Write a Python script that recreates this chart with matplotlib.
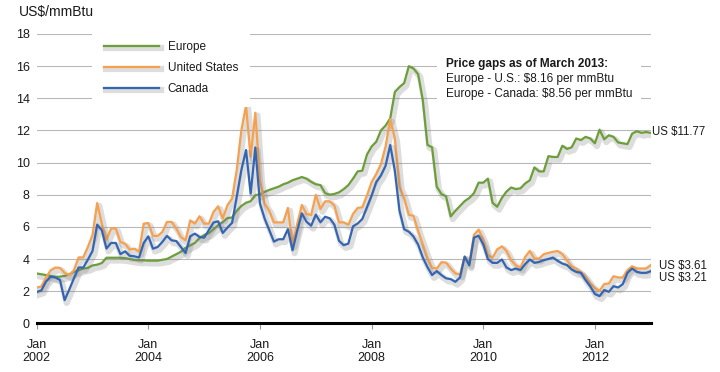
import matplotlib
matplotlib.use('Agg')
import matplotlib.pyplot as plt
from matplotlib import patheffects as pe
from matplotlib.patches import Rectangle

plt.rcParams['font.family'] = ['Liberation Sans', 'DejaVu Sans']

# ---------------- data (monthly, Jan 2002 .. Jan 2013) ----------------
europe = [3.1, 3.05, 3.0, 2.95, 2.9, 2.9, 2.95, 3.05, 3.2, 3.3, 3.4, 3.45,
          3.6, 3.65, 3.75, 4.08, 4.08, 4.08, 4.08, 4.05, 4.0, 3.95, 3.92, 3.92,
          3.9, 3.9, 3.9, 3.95, 4.0, 4.15, 4.3, 4.45, 4.7, 4.85, 5.0, 5.3,
          5.5, 5.6, 5.85, 6.1, 6.3, 6.55, 6.58, 7.0, 7.3, 7.5, 7.6, 7.97,
          8.03, 8.18, 8.3, 8.4, 8.5, 8.65, 8.75, 8.9, 9.0, 9.1, 9.0, 8.8,
          8.65, 8.6, 8.1, 8.0, 8.05, 8.15, 8.35, 8.6, 9.0, 9.45, 9.5, 10.5,
          11.0, 11.3, 12.0, 12.3, 12.75, 14.4, 14.7, 14.95, 16.0, 15.85, 15.5, 13.9,
          11.1, 10.95, 8.5, 8.05, 7.9, 6.65, 7.0, 7.3, 7.6, 7.8, 8.1, 8.75,
          8.75, 9.0, 7.5, 7.25, 7.8, 8.2, 8.45, 8.35, 8.4, 8.7, 8.9, 9.7,
          9.45, 9.45, 10.4, 10.35, 10.35, 11.05, 10.85, 10.95, 11.5, 11.4, 11.6, 11.5,
          11.2, 12.05, 11.45, 11.7, 11.6, 11.25, 11.2, 11.15, 11.8, 11.95, 11.85, 11.9,
          11.85]
united_states = [2.22, 2.3, 2.85, 3.3, 3.47, 3.45, 3.13, 3.0, 3.3, 4.1, 4.1, 4.75,
                 5.5, 7.48, 6.2, 5.2, 5.9, 5.9, 5.06, 4.95, 4.58, 4.65, 4.44, 6.2,
                 6.24, 5.44, 5.44, 5.68, 6.31, 6.31, 5.9, 5.37, 5.16, 6.4, 6.2, 6.66,
                 6.2, 6.2, 6.93, 7.28, 6.52, 7.35, 7.76, 9.53, 12.02, 13.54, 10.36, 13.1,
                 8.9, 7.45, 7.0, 6.28, 6.28, 6.28, 7.18, 4.92, 6.17, 7.36, 6.8, 6.74,
                 7.99, 7.11, 7.59, 7.59, 7.32, 6.28, 6.28, 6.13, 6.8, 7.18, 7.22, 7.95,
                 8.79, 9.3, 9.9, 11.0, 12.7, 11.5, 8.5, 7.8, 6.75, 6.69, 5.75, 4.92,
                 4.09, 3.46, 3.4, 3.8, 3.78, 3.41, 3.1, 3.04, 4.15, 3.72, 5.5, 5.83,
                 5.2, 4.24, 4.09, 4.6, 4.79, 4.5, 3.93, 3.6, 3.47, 4.13, 4.5, 4.03,
                 4.03, 4.3, 4.38, 4.45, 4.5, 4.3, 3.93, 3.55, 3.4, 3.2, 2.89, 2.5,
                 2.2, 2.02, 2.44, 2.48, 2.93, 2.85, 2.85, 3.31, 3.55, 3.41, 3.41, 3.41,
                 3.62]
canada = [1.95, 2.05, 2.6, 2.9, 2.85, 2.7, 1.44, 2.1, 2.8, 3.47, 3.47, 3.96,
          4.5, 6.14, 5.78, 4.65, 5.0, 5.0, 4.3, 4.48, 4.19, 4.17, 4.09, 5.0,
          5.41, 4.64, 4.75, 5.06, 5.44, 5.16, 5.12, 4.75, 4.37, 5.41, 5.58, 5.37,
          5.33, 5.8, 6.27, 6.35, 5.62, 5.95, 6.25, 7.87, 9.53, 10.78, 8.07, 10.94,
          7.45, 6.52, 5.8, 5.08, 5.23, 5.23, 5.86, 4.54, 5.75, 6.84, 6.32, 6.07,
          6.76, 6.28, 6.63, 6.53, 6.13, 5.13, 4.86, 4.96, 6.03, 6.21, 6.49, 7.22,
          7.95, 8.79, 9.2, 9.8, 11.09, 9.49, 7.0, 5.85, 5.7, 5.4, 4.9, 4.1,
          3.5, 3.0, 3.25, 3.0, 2.8, 2.75, 2.58, 2.85, 4.15, 3.6, 5.33, 5.45,
          4.9, 4.0, 3.76, 3.76, 3.97, 3.47, 3.31, 3.41, 3.31, 3.68, 3.97, 3.76,
          3.82, 3.93, 4.0, 4.09, 3.88, 3.72, 3.62, 3.35, 3.2, 3.14, 2.69, 2.3,
          1.82, 1.69, 2.07, 1.96, 2.31, 2.23, 2.44, 3.14, 3.41, 3.2, 3.14, 3.14,
          3.24]
months = list(range(len(europe)))

series_names = ['Europe', 'United States', 'Canada']
series_colors = ['#6c9e3a', '#f7a04e', '#3465b2']

tick_months = [0, 24, 48, 72, 96, 120]
tick_labels = ['Jan\n2002', 'Jan\n2004', 'Jan\n2006', 'Jan\n2008', 'Jan\n2010', 'Jan\n2012']
y_ticks = list(range(0, 19, 2))

end_labels = ['US $11.77', 'US $3.61', 'US $3.21']
note_title = 'Price gaps as of March 2013:'
note_lines = ['Europe - U.S.: $8.16 per mmBtu', 'Europe - Canada: $8.56 per mmBtu']

# ---------------- figure ----------------
W, H = 720, 372
fig = plt.figure(figsize=(W / 100, H / 100), dpi=100)
ax = fig.add_axes([36.7 / W, (H - 323.3) / H, (650.7 - 36.7) / W, (323.3 - 34) / H])

txt = '#1a1a1a'

shadow = [pe.SimpleLineShadow(offset=(1.5, -2.0), shadow_color='#7a7a7a', alpha=0.25, linewidth=4.5),
          pe.Normal()]

for vals, name, col in zip([europe, united_states, canada], series_names, series_colors):
    ax.plot(months, vals, color=col, lw=1.6, label=name, zorder=3,
            solid_joinstyle='round', path_effects=shadow)

ax.set_xlim(0, 132)
ax.set_ylim(0, 18)
ax.set_yticks(y_ticks)
ax.set_yticklabels([str(v) for v in y_ticks], fontsize=9, color=txt)
ax.set_xticks(tick_months)
ax.set_xticklabels(tick_labels, fontsize=9, color=txt, linespacing=1.15)
ax.tick_params(axis='y', length=0, pad=5)
ax.tick_params(axis='x', length=4, width=0.8, color='#9a9a9a', pad=7)
ax.yaxis.grid(True, color='#b8b8b8', lw=0.8)
ax.set_axisbelow(True)
for s in ['top', 'right', 'left']:
    ax.spines[s].set_visible(False)
ax.spines['bottom'].set_color('black')
ax.spines['bottom'].set_linewidth(2.2)
ax.spines['bottom'].set_zorder(4)

# legend
leg = ax.legend(loc='upper left', bbox_to_anchor=(92 / W, 1 - 29 / H), bbox_transform=fig.transFigure,
                frameon=True, fancybox=False, edgecolor='none', facecolor='white', framealpha=1,
                fontsize=8.5, handlelength=4.7, handletextpad=0.7, labelspacing=0.76,
                borderpad=1.0, borderaxespad=0)
for t in leg.get_texts():
    t.set_color(txt)
leg.set_zorder(6)

# y unit label
fig.text(19 / W, 1 - 12 / H, 'US$/mmBtu', fontsize=10, color=txt, va='center', ha='left')

# note box
ax.add_patch(Rectangle((437 / W, 1 - 103 / H), (641 - 437) / W, (103 - 53) / H,
                       transform=fig.transFigure, facecolor='white', edgecolor='none', zorder=1.5))
fig.text(446 / W, 1 - 64 / H, note_title, fontsize=8.5, fontweight='bold', color=txt, va='center')
fig.text(446 / W, 1 - 79.3 / H, note_lines[0], fontsize=8.5, color=txt, va='center')
fig.text(446 / W, 1 - 94.3 / H, note_lines[1], fontsize=8.5, color=txt, va='center')

# end labels
fig.text(652 / W, 1 - 131.7 / H, end_labels[0], fontsize=8.3, color=txt, va='center')
fig.text(659 / W, 1 - 265.7 / H, end_labels[1], fontsize=8.3, color=txt, va='center')
fig.text(659 / W, 1 - 277.7 / H, end_labels[2], fontsize=8.3, color=txt, va='center')

fig.savefig('out.png', dpi=100, facecolor='white')
